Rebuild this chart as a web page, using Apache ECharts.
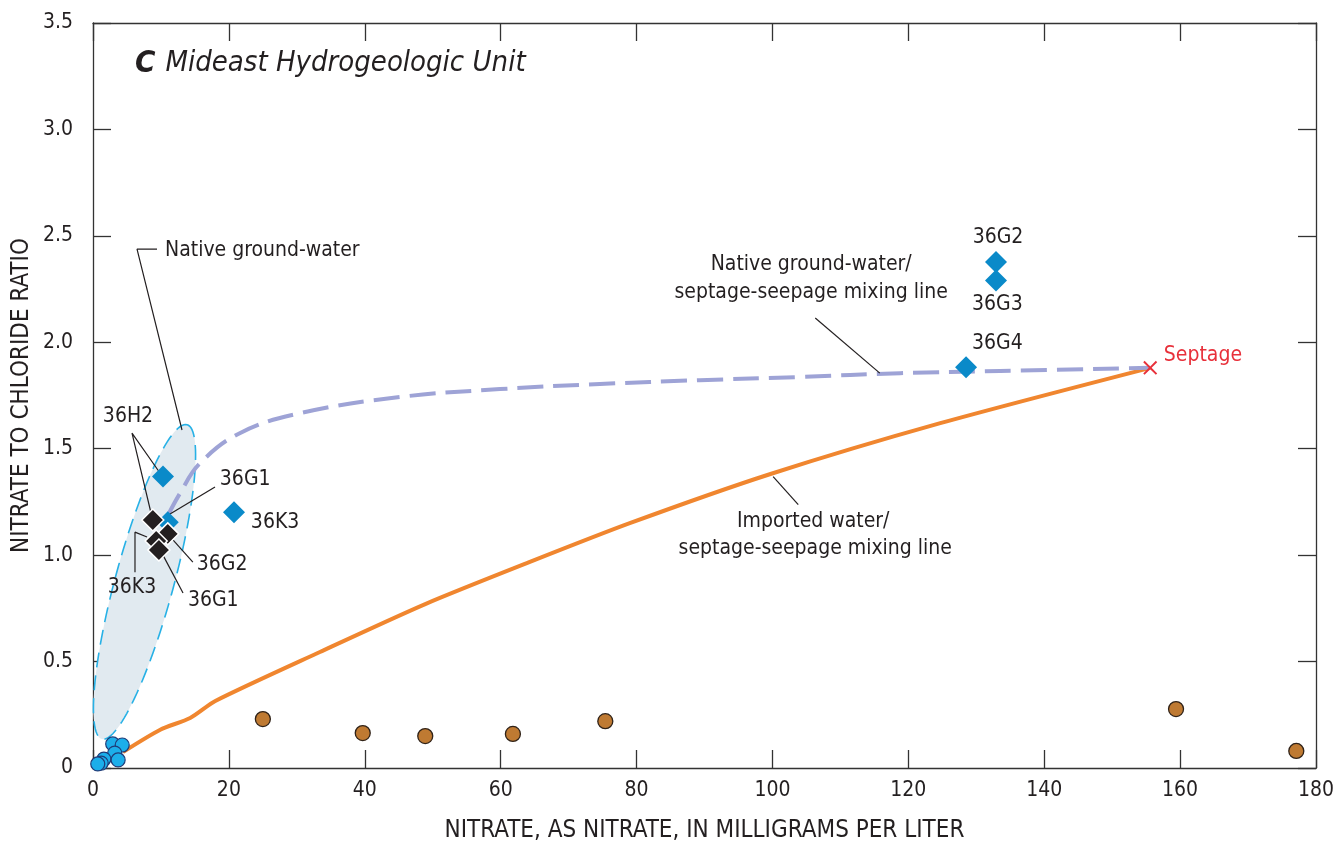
<!DOCTYPE html>
<html>
<head>
<meta charset="utf-8">
<script src="https://cdn.jsdelivr.net/npm/echarts@6/dist/echarts.min.js"></script>
<style>
  html, body { margin: 0; padding: 0; background: #fff; }
  #chart { width: 1338px; height: 848px; }
</style>
</head>
<body>
<div id="chart"></div>
<script>
// ---- Data (nitrate mg/L vs nitrate-to-chloride ratio) ----
const xTickLabels = ['0', '20', '40', '60', '80', '100', '120', '140', '160', '180'];
const yTickLabels = ['0', '0.5', '1.0', '1.5', '2.0', '2.5', '3.0', '3.5'];

// Native ground-water samples (light blue circles)
const nativeSamples = [
  [2.9, 0.113], [4.3, 0.108], [3.2, 0.07], [1.6, 0.042],
  [3.7, 0.038], [1.2, 0.023], [0.7, 0.019]
];
// Imported-water affected samples (brown circles)
const importedSamples = [
  [25.0, 0.23], [39.7, 0.164], [48.9, 0.15], [61.8, 0.16],
  [75.4, 0.22], [159.4, 0.277], [177.1, 0.08]
];
// Mideast wells, recent samples (blue diamonds)
const wellsBlue = [
  [132.9, 2.377], [132.9, 2.29], [128.5, 1.883],
  [20.75, 1.202], [10.3, 1.37], [11.0, 1.155]
];
// Mideast wells, earlier samples (black diamonds)
const wellsBlack = [
  [8.8, 1.165], [11.0, 1.10], [9.3, 1.066], [9.7, 1.024]
];
// Septage end member
const septage = [[155.6, 1.88]];

// Imported water / septage-seepage mixing line
const importedMixing = [
  [4.4, 0.075], [9.9, 0.18], [14.3, 0.235], [18.0, 0.315], [33.4, 0.545],
  [48.9, 0.77], [64.3, 0.968], [79.0, 1.15], [99.6, 1.38], [124.7, 1.62],
  [155.6, 1.88]
];
// Native ground-water / septage-seepage mixing line
const nativeMixing = [
  [10.9, 1.179], [12.8, 1.29], [15.7, 1.43], [21.6, 1.573], [30.5, 1.667],
  [45.2, 1.743], [59.9, 1.78], [74.6, 1.804], [89.3, 1.822], [104.1, 1.837],
  [118.8, 1.855], [133.5, 1.865], [155.6, 1.88]
];

// Native ground-water envelope: ends of the long axis, and width relative to length
const envelopeTips = [[1.32, 0.136], [13.84, 1.613]];
const envelopeWidthRatio = 0.18;

// Annotation texts: [text, x, y, align]
const annotations = [
  ['36G2', 133.2, 2.494, 'center'],
  ['36G3', 133.1, 2.175, 'center'],
  ['36G4', 133.1, 1.996, 'center'],
  ['Septage', 157.6, 1.94, 'left'],
  ['Native ground-water/', 105.7, 2.363, 'center'],
  ['septage-seepage mixing line', 105.7, 2.236, 'center'],
  ['Imported water/', 106.0, 1.16, 'center'],
  ['septage-seepage mixing line', 106.3, 1.03, 'center'],
  ['Native ground-water', 10.6, 2.433, 'left'],
  ['36H2', 5.15, 1.653, 'center'],
  ['36G1', 22.4, 1.353, 'center'],
  ['36K3', 26.8, 1.155, 'center'],
  ['36G2', 19.0, 0.958, 'center'],
  ['36G1', 17.7, 0.789, 'center'],
  ['36K3', 5.74, 0.85, 'center']
];

// Leader lines joining annotation texts to marks
const leaders = [
  [[106.3, 2.114], [115.8, 1.855]],
  [[100.1, 1.369], [103.8, 1.237]],
  [[9.42, 2.438], [6.48, 2.438], [13.1, 1.588]],
  [[9.86, 1.386], [5.74, 1.573], [8.54, 1.198]],
  [[17.96, 1.32], [10.6, 1.179]],
  [[11.8, 1.071], [14.7, 0.967]],
  [[10.3, 1.0], [13.25, 0.822]],
  [[7.95, 1.085], [6.18, 1.108], [6.18, 0.92]]
];

const FONT = "'Liberation Sans Narrow', 'DejaVu Sans Condensed', 'Roboto', sans-serif";
const INK = '#231f20';

const chart = echarts.init(document.getElementById('chart'), null, { renderer: 'canvas' });

const leaderSeries = leaders.map(pts => ({
  type: 'line',
  data: pts,
  symbol: 'none',
  silent: true,
  z: 4,
  lineStyle: { color: INK, width: 1.2 }
}));

const axisCommon = {
  min: 0,
  axisLine: { show: true, onZero: false, lineStyle: { color: '#333333', width: 1.3 } },
  axisTick: { show: true, inside: true, length: 18, lineStyle: { color: '#333333', width: 1.3 } },
  splitLine: { show: false }
};

chart.setOption({
  animation: false,
  backgroundColor: '#ffffff',
  title: {
    text: '{c|C}  {t|Mideast Hydrogeologic Unit}',
    left: 130,
    top: 43,
    textStyle: {
      rich: {
        c: { fontFamily: FONT, fontSize: 31, fontWeight: 'bold', fontStyle: 'italic', color: INK },
        t: { fontFamily: FONT, fontSize: 29, fontWeight: 'normal', fontStyle: 'italic', color: INK }
      }
    }
  },
  grid: { left: 93, right: 22, top: 23, bottom: 80 },
  xAxis: [
    Object.assign({}, axisCommon, {
      type: 'value', max: 180, interval: 20, position: 'bottom',
      name: 'NITRATE, AS NITRATE, IN MILLIGRAMS PER LITER',
      nameLocation: 'middle', nameGap: 63, nameMoveOverlap: false,
      nameTextStyle: { fontFamily: FONT, fontSize: 24, color: INK, verticalAlign: 'middle' },
      axisLabel: {
        margin: 12, fontFamily: FONT, fontSize: 21, color: INK,
        formatter: v => xTickLabels[Math.round(v / 20)]
      }
    }),
    Object.assign({}, axisCommon, {
      type: 'value', max: 180, interval: 20, position: 'top',
      axisLabel: { show: false }
    })
  ],
  yAxis: [
    Object.assign({}, axisCommon, {
      type: 'value', max: 3.5, interval: 0.5, position: 'left',
      name: 'NITRATE TO CHLORIDE RATIO',
      nameLocation: 'middle', nameGap: 71, nameRotate: 90, nameMoveOverlap: false,
      nameTextStyle: { fontFamily: FONT, fontSize: 24, color: INK, verticalAlign: 'middle' },
      axisLabel: {
        margin: 20, fontFamily: FONT, fontSize: 21, color: INK,
        formatter: v => yTickLabels[Math.round(v / 0.5)]
      }
    }),
    Object.assign({}, axisCommon, {
      type: 'value', max: 3.5, interval: 0.5, position: 'right',
      axisLabel: { show: false }
    })
  ],
  series: [
    {
      // native ground-water envelope
      type: 'custom',
      silent: true,
      z: 1,
      data: [envelopeTips[0].concat(envelopeTips[1])],
      renderItem: (params, api) => {
        const p1 = api.coord([api.value(0), api.value(1)]);
        const p2 = api.coord([api.value(2), api.value(3)]);
        const cx = (p1[0] + p2[0]) / 2, cy = (p1[1] + p2[1]) / 2;
        const a = Math.hypot(p2[0] - p1[0], p2[1] - p1[1]) / 2;
        const b = a * envelopeWidthRatio;
        const th = Math.atan2(p2[1] - p1[1], p2[0] - p1[0]);
        const pts = [];
        for (let i = 0; i < 120; i++) {
          const t = i / 120 * Math.PI * 2;
          const ex = a * Math.cos(t), ey = b * Math.sin(t);
          pts.push([cx + ex * Math.cos(th) - ey * Math.sin(th),
                    cy + ex * Math.sin(th) + ey * Math.cos(th)]);
        }
        return {
          type: 'polygon',
          shape: { points: pts },
          style: { fill: '#e1eaf0', stroke: '#27b1e6', lineWidth: 1.6, lineDash: [15, 8] }
        };
      }
    },
    {
      type: 'line',
      data: importedMixing,
      symbol: 'none',
      smooth: 0.25,
      z: 3,
      lineStyle: { color: '#f0862f', width: 4 }
    },
    {
      type: 'line',
      data: nativeMixing,
      symbol: 'none',
      smooth: 0.4,
      z: 3,
      lineStyle: { color: '#9ea3d6', width: 4, type: [26, 10] }
    },
    ...leaderSeries,
    {
      type: 'scatter',
      data: nativeSamples,
      symbol: 'circle',
      symbolSize: 14,
      z: 6,
      itemStyle: { color: '#1caeea', borderColor: '#1f3c78', borderWidth: 1.2, opacity: 1 }
    },
    {
      type: 'scatter',
      data: importedSamples,
      symbol: 'circle',
      symbolSize: 15,
      z: 6,
      itemStyle: { color: '#bf7a32', borderColor: '#2f2218', borderWidth: 1.3, opacity: 1 }
    },
    {
      type: 'scatter',
      data: wellsBlack,
      symbol: 'diamond',
      symbolSize: 22,
      z: 6,
      itemStyle: { color: '#231f20', borderColor: '#ffffff', borderWidth: 1.5, opacity: 1 }
    },
    {
      type: 'scatter',
      data: wellsBlue,
      symbol: 'diamond',
      symbolSize: 22,
      z: 5,
      itemStyle: { color: '#0a8ac9', opacity: 1 }
    },
    {
      type: 'scatter',
      data: septage,
      symbol: 'path://M0,1 L1,0 L5,4 L9,0 L10,1 L6,5 L10,9 L9,10 L5,6 L1,10 L0,9 L4,5 Z',
      symbolSize: 14,
      z: 7,
      itemStyle: { color: '#e8303a', opacity: 1 }
    },
    {
      // annotation texts
      type: 'custom',
      silent: true,
      z: 8,
      data: annotations.map(a => [a[1], a[2]]),
      renderItem: (params, api) => {
        const a = annotations[params.dataIndex];
        const p = api.coord([api.value(0), api.value(1)]);
        return {
          type: 'text',
          x: p[0], y: p[1],
          style: {
            text: a[0],
            fontFamily: FONT,
            fontSize: 21,
            fill: a[0] === 'Septage' ? '#e8303a' : INK,
            align: a[3],
            verticalAlign: 'middle'
          }
        };
      }
    }
  ]
});
</script>
</body>
</html>
